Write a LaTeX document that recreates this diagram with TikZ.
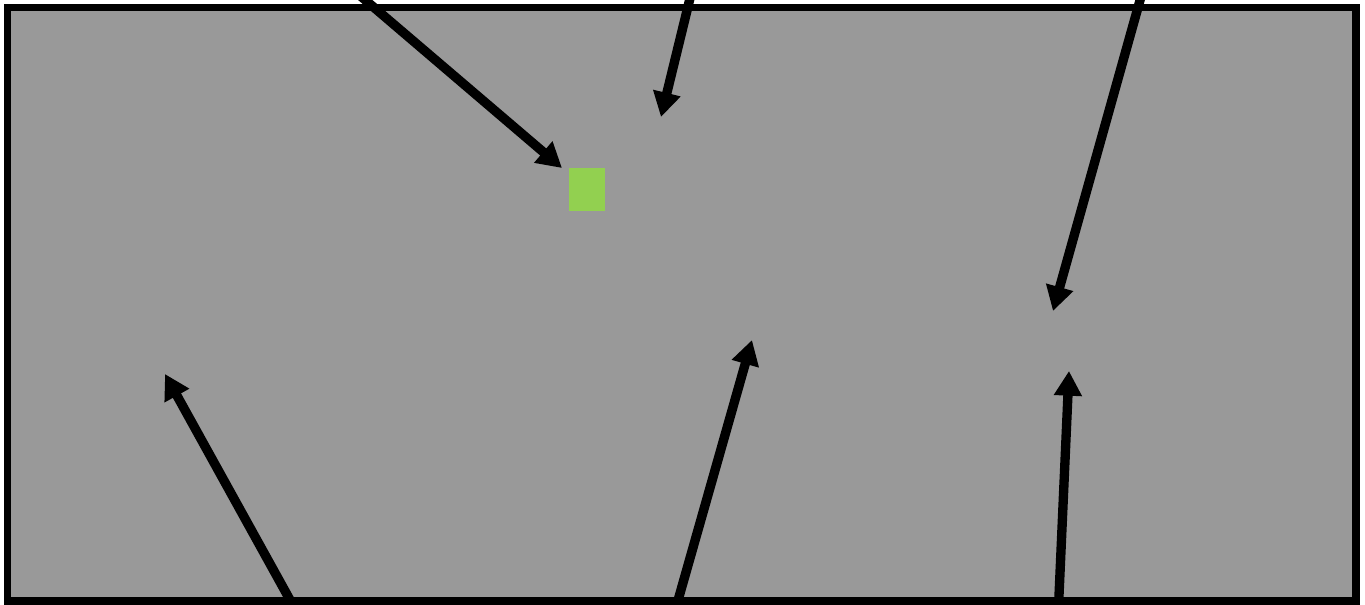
\documentclass[tikz,border=0pt]{standalone}
\usetikzlibrary{arrows.meta}
\definecolor{panelgray}{HTML}{999999}
\definecolor{markgreen}{HTML}{92D050}
\tikzset{
  panel/.style={draw=black, fill=panelgray, line width=5.5pt},
  pointer/.style={draw=black, line width=7pt, -{Triangle[length=18.5pt,width=20pt]}},
  marker/.style={fill=markgreen, draw=none, minimum width=27pt, minimum height=32pt, inner sep=0pt}
}
\begin{document}
\begin{tikzpicture}[x=0.75pt,y=-0.75pt]
\useasboundingbox (0,0) rectangle (1365,604);
\draw[panel] (7.5,7.5) rectangle (1356,601);
\node[marker] (sq) at (587,189.5) {};
% arrow endpoints
\coordinate (a1s) at (350,-13);
\coordinate (a1e) at (562,168);
\coordinate (a2s) at (693,-14);
\coordinate (a2e) at (661,117);
\coordinate (a3s) at (1144,-14);
\coordinate (a3e) at (1053,311);
\coordinate (b1s) at (300,618);
\coordinate (b1e) at (165,374);
\coordinate (b2s) at (673,618);
\coordinate (b2e) at (752,340);
\coordinate (b3s) at (1058,618);
\coordinate (b3e) at (1069,371);
\begin{scope}
\clip (0,0) rectangle (1365,604);
\draw[pointer] (a1s) -- (a1e);
\draw[pointer] (a2s) -- (a2e);
\draw[pointer] (a3s) -- (a3e);
\draw[pointer] (b1s) -- (b1e);
\draw[pointer] (b2s) -- (b2e);
\draw[pointer] (b3s) -- (b3e);
\end{scope}
\end{tikzpicture}
\end{document}
